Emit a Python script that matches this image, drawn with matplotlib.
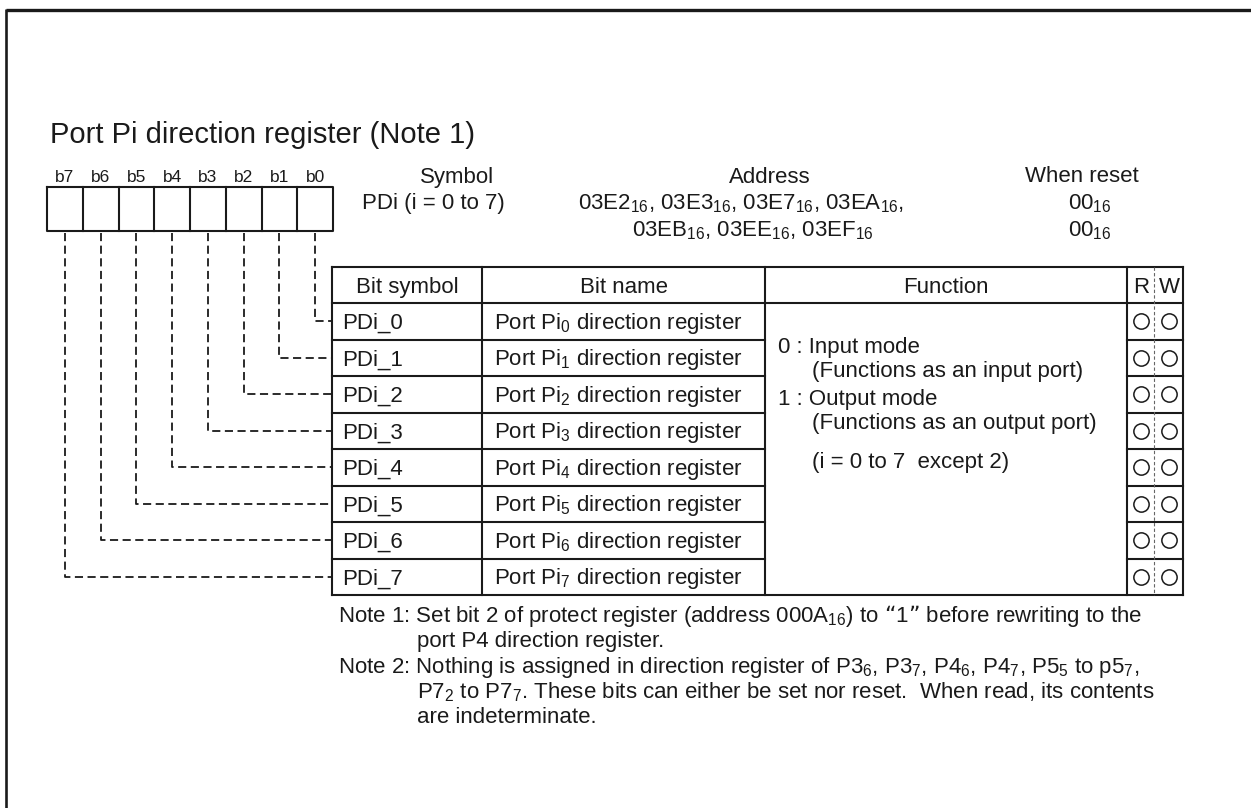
import matplotlib
matplotlib.use('Agg')
import matplotlib.pyplot as plt

plt.rcParams['font.family'] = ['Liberation Sans', 'DejaVu Sans']
plt.rcParams['mathtext.default'] = 'regular'

# ---------------- data ----------------
title = 'Port Pi direction register (Note 1)'
bit_labels = ['b7', 'b6', 'b5', 'b4', 'b3', 'b2', 'b1', 'b0']
header_cols = ['Bit symbol', 'Bit name', 'Function']
rw_labels = ['R', 'W']
bit_symbols = ['PDi_0', 'PDi_1', 'PDi_2', 'PDi_3', 'PDi_4', 'PDi_5', 'PDi_6', 'PDi_7']
bit_names = ['Port Pi$_0$ direction register', 'Port Pi$_1$ direction register',
             'Port Pi$_2$ direction register', 'Port Pi$_3$ direction register',
             'Port Pi$_4$ direction register', 'Port Pi$_5$ direction register',
             'Port Pi$_6$ direction register', 'Port Pi$_7$ direction register']
function_lines = ['0 : Input mode', '(Functions as an input port)',
                  '1 : Output mode', '(Functions as an output port)',
                  '(i = 0 to 7  except 2)']
function_indent = [0, 1, 0, 1, 1]
read_ok = [1, 1, 1, 1, 1, 1, 1, 1]
write_ok = [1, 1, 1, 1, 1, 1, 1, 1]
symbol_head = 'Symbol'
symbol_text = 'PDi (i = 0 to 7)'
address_head = 'Address'
address_lines = ['03E2$_{16}$, 03E3$_{16}$, 03E7$_{16}$, 03EA$_{16}$,',
                 '03EB$_{16}$, 03EE$_{16}$, 03EF$_{16}$']
reset_head = 'When reset'
reset_values = ['00$_{16}$', '00$_{16}$']
notes = ['Note 1: Set bit 2 of protect register (address 000A$_{16}$) to \u201c1\u201d before rewriting to the',
         'port P4 direction register.',
         'Note 2: Nothing is assigned in direction register of P3$_6$, P3$_7$, P4$_6$, P4$_7$, P5$_5$ to p5$_7$,',
         'P7$_2$ to P7$_7$. These bits can either be set nor reset.  When read, its contents',
         'are indeterminate.']
note_indent = [0, 1, 0, 1, 1]

# ---------------- layout ----------------
W, H = 1251, 808
fig = plt.figure(figsize=(W / 100, H / 100), dpi=100)
ax = fig.add_axes([0, 0, 1, 1])
ax.set_xlim(0, W)
ax.set_ylim(H, 0)
ax.axis('off')

ink = '#1a1a1a'
body = 16
lw = 1.5

# outer frame (top and left visible)
ax.plot([6, W + 5], [10, 10], color=ink, lw=2.4, solid_capstyle='butt')
ax.plot([6, 6], [9, H + 5], color=ink, lw=1.9, solid_capstyle='butt')

# title
ax.text(50, 143, title, fontsize=21, color=ink, va='baseline', ha='left')

# bit box
box_l, box_r, box_t, box_b = 47, 333, 187, 231
n = len(bit_labels)
cw = (box_r - box_l) / n
ax.plot([box_l, box_r, box_r, box_l, box_l], [box_t, box_t, box_b, box_b, box_t],
        color=ink, lw=lw)
for i in range(1, n):
    ax.plot([box_l + i * cw] * 2, [box_t, box_b], color=ink, lw=lw)
for i, lab in enumerate(bit_labels):
    ax.text(box_l + (i + 0.5) * cw, 182, lab, fontsize=12.5, color=ink,
            ha='center', va='baseline')

# header info
ax.text(457, 183, symbol_head, fontsize=body, color=ink, ha='center', va='baseline')
ax.text(362, 209, symbol_text, fontsize=body, color=ink, ha='left', va='baseline')
ax.text(770, 183, address_head, fontsize=body, color=ink, ha='center', va='baseline')
ax.text(578, 209, address_lines[0], fontsize=body, color=ink, ha='left', va='baseline')
ax.text(632, 236, address_lines[1], fontsize=body, color=ink, ha='left', va='baseline')
ax.text(1082, 182, reset_head, fontsize=body, color=ink, ha='center', va='baseline')
for k, v in enumerate(reset_values):
    ax.text(1068, 209 + 27 * k, v, fontsize=body, color=ink, ha='left', va='baseline')

# table
cols = [332, 482, 765, 1127, 1154, 1183]
head_t, head_b = 267, 303
rows = len(bit_symbols)
row_h = (595 - head_b) / rows
tab_b = head_b + rows * row_h

# horizontal lines
ax.plot([cols[0], cols[-1]], [head_t, head_t], color=ink, lw=lw)
ax.plot([cols[0], cols[-1]], [head_b, head_b], color=ink, lw=lw)
ax.plot([cols[0], cols[-1]], [tab_b, tab_b], color=ink, lw=lw)
for r in range(1, rows):
    y = head_b + r * row_h
    ax.plot([cols[0], cols[2]], [y, y], color=ink, lw=lw)
    ax.plot([cols[3], cols[5]], [y, y], color=ink, lw=lw)
# vertical lines
for x in [cols[0], cols[1], cols[2], cols[3], cols[5]]:
    ax.plot([x, x], [head_t, tab_b], color=ink, lw=lw)
ax.plot([cols[4], cols[4]], [head_t, tab_b], color='#666666', lw=0.8,
        linestyle=(0, (3, 2)))

# headers
hb = (head_t + head_b) / 2 + 8
for j, h in enumerate(header_cols):
    ax.text((cols[j] + cols[j + 1]) / 2, hb, h, fontsize=body, color=ink,
            ha='center', va='baseline')
ax.text((cols[3] + cols[4]) / 2 + 1, hb, rw_labels[0], fontsize=body, color=ink,
        ha='center', va='baseline')
ax.text((cols[4] + cols[5]) / 2 + 0.5, hb, rw_labels[1], fontsize=body, color=ink,
        ha='center', va='baseline')

# rows
for r in range(rows):
    yc = head_b + (r + 0.5) * row_h
    ax.text(342, yc + 7.5, bit_symbols[r], fontsize=body, color=ink,
            ha='left', va='baseline')
    ax.text(618, yc + 7.5, bit_names[r], fontsize=body, color=ink,
            ha='center', va='baseline')
    if read_ok[r]:
        ax.plot([(cols[3] + cols[4]) / 2 + 0.5], [yc], marker='o', ms=11,
                mfc='none', mec=ink, mew=1.1)
    if write_ok[r]:
        ax.plot([(cols[4] + cols[5]) / 2], [yc], marker='o', ms=11,
                mfc='none', mec=ink, mew=1.1)
    # dashed connector from bit cell to row
    bit_index = n - 1 - r
    xb = box_l + (bit_index + 0.5) * cw
    ax.plot([xb, xb, cols[0]], [box_b + 2, yc, yc], color=ink, lw=1.3,
            linestyle=(0, (4.5, 2.5)))

# function text
func_base = [353, 377, 405, 429, 468]
for k, line in enumerate(function_lines):
    ax.text(778 + 34 * function_indent[k], func_base[k], line, fontsize=body,
            color=ink, ha='left', va='baseline')

# notes
for k, line in enumerate(notes):
    ax.text(338 + 79 * note_indent[k], 622 + 25.3 * k, line, fontsize=body,
            color=ink, ha='left', va='baseline')

fig.savefig('out.png', dpi=100)
